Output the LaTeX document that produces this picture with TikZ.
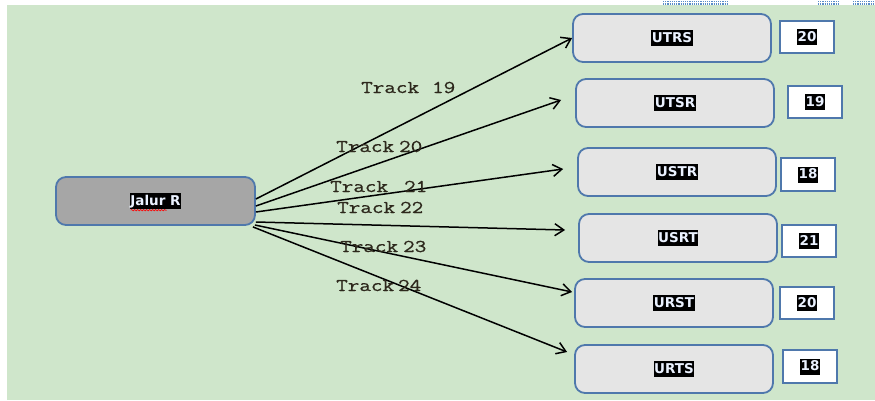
\documentclass[tikz,border=0pt]{standalone}
\usepackage{fontspec}
\setmainfont{DejaVu Sans}
\newfontfamily\trackfont{Latin Modern Mono}[FakeStretch=1.25,FakeBold=0.8]
\usetikzlibrary{arrows.meta,decorations.pathmorphing}
\definecolor{bg}{RGB}{207,230,203}
\definecolor{bord}{RGB}{79,120,172}
\definecolor{boxgray}{RGB}{229,229,229}
\definecolor{midgray}{RGB}{166,166,166}
\definecolor{trkcol}{RGB}{45,40,28}
\definecolor{hltext}{RGB}{235,242,255}
\definecolor{spell}{RGB}{90,140,200}
\begin{document}
\begin{tikzpicture}[x=1pt,y=-1pt,
  rbox/.style={draw=bord,line width=1.8pt,rounded corners=10pt,fill=boxgray,minimum width=198pt,minimum height=48pt,inner sep=0pt},
  nbox/.style={draw=bord,line width=1.8pt,fill=white,minimum width=54pt,minimum height=32pt,inner sep=0pt},
  hl/.style={fill=black,text=hltext,font=\fontsize{13.5}{14}\selectfont\bfseries,inner xsep=0.5pt,inner ysep=0pt,text height=12pt,text depth=4pt},
  arr/.style={-{Straight Barb[length=9pt,width=12pt]},line width=1.5pt,black},
  trk/.style={font=\trackfont\fontsize{18}{20}\selectfont,text=trkcol,inner sep=0pt,anchor=base west}]
\fill[white] (0,0) rectangle (875,400);
\fill[bg] (7,5) rectangle (875,400);
\useasboundingbox (0,0) rectangle (875,400);
% spell-check marks at the top
\foreach \yy in {1.2,4}{
  \draw[spell,line width=1.2pt,dash pattern=on 1.2pt off 1pt] (663,\yy) -- (727,\yy);
  \draw[spell,line width=1.2pt,dash pattern=on 1.2pt off 1pt] (818,\yy) -- (840,\yy);
  \draw[spell,line width=1.2pt,dash pattern=on 1.2pt off 1pt] (853,\yy) -- (875,\yy);
}
% main box
\node[rbox,fill=midgray,minimum width=199pt] (jalur) at (155.5,201) {};
\node[hl] (jalurt) at (jalur) {Jalur R};
\draw[red,line width=0.6pt,decorate,decoration={snake,amplitude=0.7pt,segment length=3pt}] ([xshift=1pt,yshift=-1pt]jalurt.south west) -- ([xshift=37pt,yshift=-1pt]jalurt.south west);
% right boxes
\node[rbox] (utrs) at (672,38) {};
\node[hl] (utrst) at (utrs) {UTRS};
\node[rbox] (utsr) at (675,103) {};
\node[hl] (utsrt) at (utsr) {UTSR};
\node[rbox] (ustr) at (677,172) {};
\node[hl] (ustrt) at (ustr) {USTR};
\node[rbox] (usrt) at (678,238) {};
\node[hl] (usrtt) at (usrt) {USRT};
\node[rbox] (urst) at (674,303) {};
\node[hl] (urstt) at (urst) {URST};
\node[rbox] (urts) at (674,369) {};
\node[hl] (urtst) at (urts) {URTS};
% number boxes
\node[nbox] (n1) at (807,37) {};
\node[hl] (n1t) at (n1) {20};
\node[nbox] (n2) at (815,102) {};
\node[hl] (n2t) at (n2) {19};
\node[nbox,minimum height=33pt] (n3) at (808,174.5) {};
\node[hl] (n3t) at (n3) {18};
\node[nbox] (n4) at (809,241) {};
\node[hl] (n4t) at (n4) {21};
\node[nbox] (n5) at (807,303) {};
\node[hl] (n5t) at (n5) {20};
\node[nbox,minimum height=33pt] (n6) at (810,366.5) {};
\node[hl] (n6t) at (n6) {18};
% arrows
\coordinate (e2) at ([xshift=-14pt,yshift=3pt]utsr.west);
\coordinate (e3) at ([xshift=-14pt,yshift=3pt]ustr.west);
\coordinate (e4) at ([xshift=-13pt,yshift=8pt]usrt.west);
\coordinate (e5) at ([xshift=-2pt,yshift=11pt]urst.west);
\coordinate (e6) at ([xshift=-7pt,yshift=17pt]urts.west);
\draw[arr] ([yshift=2pt]jalur.east) -- (utrs.west);
\draw[arr] ([yshift=-5pt]jalur.east) -- (e2);
\draw[arr] ([yshift=-11pt]jalur.east) -- (e3);
\draw[arr] ([yshift=-21pt]jalur.east) -- (e4);
\draw[arr] ([xshift=-1pt,yshift=-24pt]jalur.east) -- (e5);
\draw[arr] ([xshift=-3pt,yshift=-1pt]jalur.south east) -- (e6);
% track labels
\node[trk] (t19) at (361,93) {Track\hspace{13pt}19};
\node[trk] (t20) at (336,152) {Track\hspace{5pt}20};
\node[trk] (t21) at (330,192) {Track\hspace{16pt}21};
\node[trk] (t22) at (337,213) {Track\hspace{5pt}22};
\node[trk] (t23) at (340,252) {Track\hspace{5pt}23};
\node[trk] (t24) at (336,291) {Track\hspace{4pt}24};
\end{tikzpicture}
\end{document}
